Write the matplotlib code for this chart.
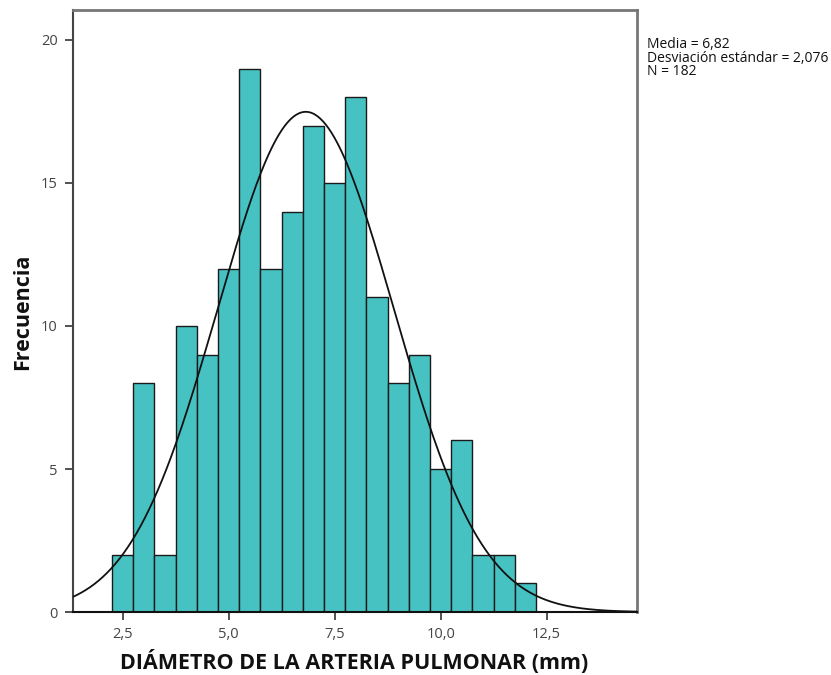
import numpy as np
import matplotlib
matplotlib.use("Agg")
from matplotlib import pyplot as plt

bordes = [2.25 + 0.5 * i for i in range(21)]
frecuencias = [2, 8, 2, 10, 9, 12, 19, 12, 14, 17, 15, 18, 11, 8, 9, 5, 6, 2, 2, 1]
media = 6.82
desviacion = 2.076
n = 182
ticks_x = [2.5, 5.0, 7.5, 10.0, 12.5]
ticks_y = [0, 5, 10, 15, 20]

plt.rcParams["font.family"] = ["Open Sans", "DejaVu Sans"]

fig = plt.figure(figsize=(8.31, 6.75), dpi=100)
ax = fig.add_axes([0.0878, 0.0933, 0.6787, 0.892])

anchos = np.diff(bordes)
ax.bar(bordes[:-1], frecuencias, width=anchos, align="edge",
       color="#47C2C3", edgecolor="#1a1a1a", linewidth=1.0, zorder=2)

# Curva normal escalada a frecuencias
xmin, xmax = 1.33, 14.63
x = np.linspace(xmin, xmax, 400)
ancho_bin = 0.5
y = n * ancho_bin / (desviacion * np.sqrt(2 * np.pi)) * np.exp(-0.5 * ((x - media) / desviacion) ** 2)
ax.plot(x, y, color="#111111", linewidth=1.3, zorder=3)

ax.set_xlim(xmin, xmax)
ax.set_ylim(0, 21.05)
ax.set_xticks(ticks_x)
ax.set_xticklabels([f"{t:.1f}".replace(".", ",") for t in ticks_x])
ax.set_yticks(ticks_y)
ax.tick_params(direction="out", length=6, width=1.2, color="#333333",
               labelsize=10.5, labelcolor="#444444", pad=5)

for lado in ["top", "right"]:
    ax.spines[lado].set_color("#777777")
    ax.spines[lado].set_linewidth(2)
ax.spines["left"].set_color("#444444")
ax.spines["left"].set_linewidth(1.5)
ax.spines["bottom"].set_color("#111111")
ax.spines["bottom"].set_linewidth(1.5)

# Titulos de los ejes en coordenadas de figura
fig.text(354 / 831, 1 - 662 / 675, "DIÁMETRO DE LA ARTERIA PULMONAR (mm)", fontsize=15.5,
         fontweight="bold", color="#111111", ha="center", va="center")
fig.text(23 / 831, 1 - 312 / 675, "Frecuencia", fontsize=15.5, fontweight="bold",
         color="#111111", ha="center", va="center", rotation=90)

fig.text(0.778, 0.945,
         f"Media = {media:.2f}\nDesviación estándar = {desviacion:.3f}\nN = {n}".replace(".", ","),
         fontsize=10, va="top", ha="left", color="#111111", linespacing=0.88)

fig.savefig("out.png", dpi=100)
plt.close(fig)
